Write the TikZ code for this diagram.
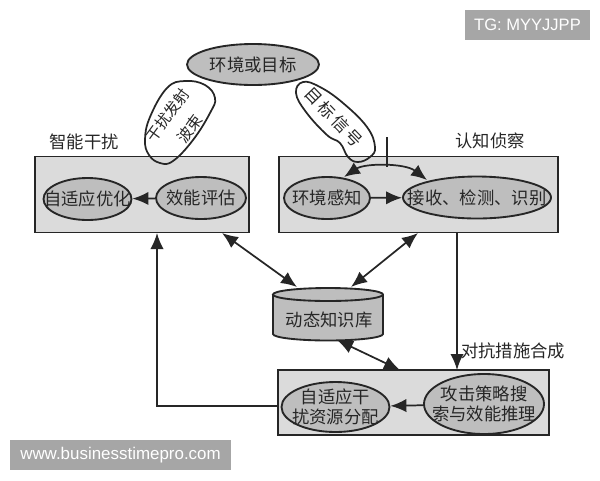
\documentclass[tikz,border=0pt]{standalone}
\usepackage{fontspec}
\setmainfont{Noto Sans CJK SC}
\newfontfamily\wmfont{Liberation Sans}
\usetikzlibrary{arrows.meta,shapes.geometric}
\definecolor{ink}{HTML}{262626}
\definecolor{boxgray}{HTML}{DBDBDB}
\definecolor{ellgray}{HTML}{BEBEBE}
\definecolor{wmgray}{HTML}{A6A6A6}
\tikzset{
  panel/.style={draw=ink,line width=1.4pt,fill=boxgray},
  ell/.style={ellipse,draw=ink,line width=1.4pt,fill=ellgray,inner sep=0pt},
  lab/.style={text=ink,font=\fontsize{13}{15.5}\selectfont,align=center,inner sep=0pt},
  blobtext/.style={lab,font=\fontsize{11.5}{13}\selectfont},
  wire/.style={draw=ink,line width=1.3pt},
  wm/.style={fill=wmgray,text=white,inner sep=0pt}
}
\begin{document}
\begin{tikzpicture}[x=.75pt,y=-.75pt,>={Latex[length=12pt,width=10pt]}]
\useasboundingbox (0,0) rectangle (600,480);
% panels
\node[panel,minimum width=160.5pt,minimum height=57pt,inner sep=0pt] (jam) at (142,194.5) {};
\node[panel,minimum width=209pt,minimum height=57pt,inner sep=0pt] (recon) at (418.5,194.5) {};
\node[panel,minimum width=203pt,minimum height=48.75pt,inner sep=0pt] (attack) at (413.5,402.5) {};
\node[lab] (jamtitle) at (84,142) {智能干扰};
\node[lab] (recontitle) at (490,141) {认知侦察};
\node[lab] (synth) at (513,351) {对抗措施合成};
% top
\node[ell,minimum width=99pt,minimum height=30.75pt,label={[lab]center:环境或目标}] (env) at (253,64.5) {};
\node[ell,minimum width=66pt,minimum height=31.5pt,label={[lab]center:自适应优化}] (adapt) at (87.5,199) {};
\node[ell,minimum width=67.5pt,minimum height=31.5pt,label={[lab]center:效能评估}] (eval) at (201,198) {};
\node[ell,minimum width=64.5pt,minimum height=31.5pt,label={[lab]center:环境感知}] (sense) at (327,198) {};
\node[ell,minimum width=111pt,minimum height=31.5pt,label={[lab]center:接收、检测、识别}] (detect) at (477,197.5) {};
\node[ell,minimum width=81pt,minimum height=37.5pt,label={[lab]center:自适应干\\扰资源分配}] (alloc) at (335.5,407) {};
\node[ell,minimum width=90pt,minimum height=45pt,label={[lab]center:攻击策略搜\\索与效能推理}] (search) at (484,404) {};
% knowledge base
\draw[panel,fill=ellgray] (273,294.5) -- (273,334) arc[start angle=180,end angle=0,x radius=55,y radius=6.5] -- (383,294.5) arc[start angle=0,end angle=-360,x radius=55,y radius=6.5];
\node[lab] (kb) at (329,320) {动态知识库};
% blobs
\draw[wire] plot[smooth cycle,tension=.7] coordinates {(160,163) (149,155) (145,140) (150,117) (167,88) (185,81) (205,85) (215,98) (210,113) (193,140) (173,161)};
\node[blobtext,rotate=54] (beam1) at (168,115) {干扰发射};
\node[blobtext,rotate=54] (beam2) at (190,129) {波束};
\draw[wire] plot[smooth cycle,tension=.7] coordinates {(296,93) (303,82) (320,87) (343,103) (367,127) (375,147) (370,157) (358,162) (348,157) (340,143) (327,135) (306,112)};
\node[blobtext,font=\fontsize{12.5}{13}\selectfont,rotate=-46] (echo) at (334,117) {目\,标\,信\,号};
% coordinates for free ends
\coordinate (probe) at (387,137);
\coordinate (arctop) at (387,167);
\coordinate (arcl) at (344,177);
\coordinate (arcr) at (427,180);
\coordinate (jamport) at (222,233);
\coordinate (reconport) at (418,233);
\coordinate (kbl) at (297,287);
\coordinate (kbr) at (351,287);
\coordinate (kbb) at (337,340);
\coordinate (atktop) at (400,370);
\coordinate (outl) at (278,406);
\coordinate (bend) at (157,406);
\coordinate (jamin) at (157,233);
\coordinate (synthtop) at (457,370);
\coordinate (synthsrc) at (457,233);
% connectors
\draw[wire,->] (eval) -- (adapt);
\draw[wire,->] (sense) -- (detect);
\draw[wire,->] (search) -- (alloc);
\draw[wire] (probe) -- (arctop);
\draw[wire,<->] (arcl) .. controls (365,163) and (405,163) .. (arcr);
\draw[wire,<->] (jamport) -- (kbl);
\draw[wire,<->] (reconport) -- (kbr);
\draw[wire,<->] (kbb) -- (atktop);
\draw[wire,->] (synthsrc) -- (synthtop);
\draw[wire,->] (outl) -- (bend) -- (jamin);
% watermarks
\node[wm,font=\wmfont\fontsize{12.4}{15}\selectfont,minimum width=93.75pt,minimum height=22.5pt] (tg) at (527.5,25) {TG: MYYJJPP};
\node[wm,font=\wmfont\fontsize{12.7}{15}\selectfont,minimum width=165.75pt,minimum height=22.5pt] (site) at (120.5,455) {www.businesstimepro.com};
\end{tikzpicture}
\end{document}
